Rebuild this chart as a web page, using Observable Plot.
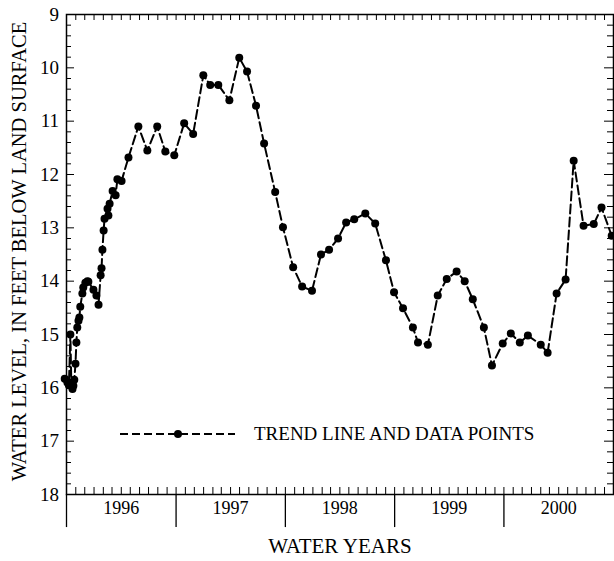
<!DOCTYPE html>
<html><head><meta charset="utf-8">
<script src="https://cdn.jsdelivr.net/npm/d3@7"></script>
<script src="https://cdn.jsdelivr.net/npm/@observablehq/plot@0.6"></script>
<style>body{margin:0;background:#fff} svg{display:block}</style>
</head><body><div id="chart"></div>
<script>
const dates = [
"1995-09-25","1995-10-04","1995-10-09","1995-10-14","1995-10-17","1995-10-21","1995-10-24","1995-10-27","1995-10-31",
"1995-11-03","1995-11-06","1995-11-10","1995-11-13","1995-11-16","1995-11-23","1995-11-26","1995-12-03","1995-12-10","1995-12-13","1995-12-30",
"1996-01-09","1996-01-16","1996-01-23","1996-01-26","1996-01-29","1996-02-02","1996-02-05","1996-02-15","1996-02-18","1996-02-22",
"1996-03-03","1996-03-13","1996-03-19","1996-04-02","1996-04-25","1996-05-28","1996-06-27","1996-07-30","1996-08-26","1996-09-25",
"1996-10-28","1996-11-27","1996-12-31","1997-01-23","1997-02-19","1997-03-28","1997-04-30","1997-05-26","1997-06-25","1997-07-22",
"1997-08-28","1997-09-23","1997-10-27","1997-11-26","1997-12-29","1998-01-28","1998-02-24","1998-03-26","1998-04-22","1998-05-19",
"1998-06-25","1998-07-28","1998-09-02","1998-09-29","1998-10-29","1998-12-01","1998-12-18","1999-01-20","1999-02-22","1999-03-24",
"1999-04-26","1999-05-23","1999-06-19","1999-07-26","1999-08-22","1999-09-27","1999-10-24","1999-11-23","1999-12-20","2000-02-01",
"2000-02-24","2000-03-25","2000-04-24","2000-05-21","2000-06-23","2000-07-27","2000-08-22","2000-09-25"
];
const levels = [
15.83,15.90,15.95,15.00,15.90,16.02,15.96,15.85,15.55,
15.15,14.87,14.74,14.68,14.48,14.23,14.12,14.03,14.00,14.01,14.16,
14.27,14.44,13.89,13.76,13.41,13.05,12.83,12.64,12.77,12.55,
12.31,12.39,12.09,12.12,11.68,11.10,11.55,11.10,11.57,11.64,
11.04,11.24,10.14,10.32,10.32,10.61,9.81,10.07,10.71,11.42,
12.33,12.99,13.74,14.10,14.18,13.50,13.41,13.20,12.90,12.84,
12.73,12.92,13.61,14.21,14.51,14.87,15.15,15.19,14.27,13.96,
13.82,14.00,14.34,14.87,15.58,15.17,14.98,15.15,15.02,15.19,
15.34,14.23,13.97,11.74,12.96,12.93,12.62,13.15
];
const yearLabels = ["1996","1997","1998","1999","2000"];
const yearMids = ["1996-04-01","1997-04-01","1998-04-01","1999-04-01","2000-04-01"];
const yearBounds = ["1995-10-01","1996-10-01","1997-10-01","1998-10-01","1999-10-01"];
const majorY = [9,10,11,12,13,14,15,16,17,18];
const minorY = [9.2,9.4,9.6,9.8,10.2,10.4,10.6,10.8,11.2,11.4,11.6,11.8,12.2,12.4,12.6,12.8,13.2,13.4,13.6,13.8,
  14.2,14.4,14.6,14.8,15.2,15.4,15.6,15.8,16.2,16.4,16.6,16.8,17.2,17.4,17.6,17.8];
const legendLabel = "TREND LINE AND DATA POINTS";
const xTitle = "WATER YEARS";
const yTitle = "WATER LEVEL, IN FEET BELOW LAND SURFACE";

const W = 614, H = 561, ML = 66, MR = 1, MT = 14, MB = 67;
const PW = W - ML - MR, PH = H - MT - MB;
const data = dates.map((d, i) => ({date: new Date(d), level: levels[i]}));
const x0 = new Date("1995-10-01"), x1 = new Date("2000-10-01");
const months = d3.utcMonth.range(x0, x1).slice(1);
const font = "Liberation Serif, Times New Roman, serif";

const chart = Plot.plot({
  width: W, height: H, marginLeft: ML, marginRight: MR, marginTop: MT, marginBottom: MB,
  style: {fontFamily: font, background: "white", color: "black", overflow: "visible"},
  x: {type: "utc", domain: [x0, x1], axis: null},
  y: {domain: [9, 18], reverse: true, axis: null},
  marks: [
    Plot.tickX(months, {insetBottom: PH - 6, stroke: "black", strokeWidth: 1}),
    Plot.tickX(months, {insetTop: PH - 7, stroke: "black", strokeWidth: 1}),
    Plot.tickY(majorY, {insetRight: PW - 8, stroke: "black", strokeWidth: 1}),
    Plot.tickY(minorY, {insetRight: PW - 5, stroke: "black", strokeWidth: 1}),
    Plot.tickY(majorY, {insetLeft: PW - 9, stroke: "black", strokeWidth: 1}),
    Plot.tickY(minorY, {insetLeft: PW - 6, stroke: "black", strokeWidth: 1}),
    Plot.ruleX(yearBounds.map(d => new Date(d)), {y1: 18, y2: 18.62, stroke: "black", strokeWidth: 1.3}),
    Plot.frame({stroke: "black", strokeWidth: 1.5}),
    Plot.line(data, {x: "date", y: "level", stroke: "black", strokeWidth: 2, strokeDasharray: "9,4"}),
    Plot.dot(data, {x: "date", y: "level", r: 4, fill: "black", stroke: "none"}),
    Plot.text(majorY, {y: d => d, text: d => String(d), frameAnchor: "left", dx: -7.5, textAnchor: "end", fontSize: 19, fontFamily: font, fill: "black"}),
    Plot.text(yearLabels, {x: (d, i) => new Date(yearMids[i]), text: d => d, frameAnchor: "bottom", dy: 19, fontSize: 18, fontFamily: font, fill: "black"}),
    Plot.text([xTitle], {text: d => d, frameAnchor: "bottom", dy: 58.5, fontSize: 21, fontFamily: font, fill: "black"}),
    Plot.text([yTitle], {text: d => d, frameAnchor: "left", textAnchor: "middle", dx: -47, dy: -3, rotate: -90, fontSize: 20.5, fontFamily: font, fill: "black"})
  ]
});
document.getElementById("chart").appendChild(chart);

// legend
const svg = d3.select(chart);
const g = svg.append("g");
g.append("line").attr("x1", 120).attr("x2", 235).attr("y1", 434).attr("y2", 434)
  .attr("stroke", "black").attr("stroke-width", 2).attr("stroke-dasharray", "8,4");
g.append("circle").attr("cx", 178).attr("cy", 434).attr("r", 4).attr("fill", "black");
g.append("text").attr("x", 254).attr("y", 434).attr("dy", "0.34em").attr("text-anchor", "start")
  .attr("font-family", font).attr("font-size", 19).attr("fill", "black").text(legendLabel);
</script>
</body></html>
